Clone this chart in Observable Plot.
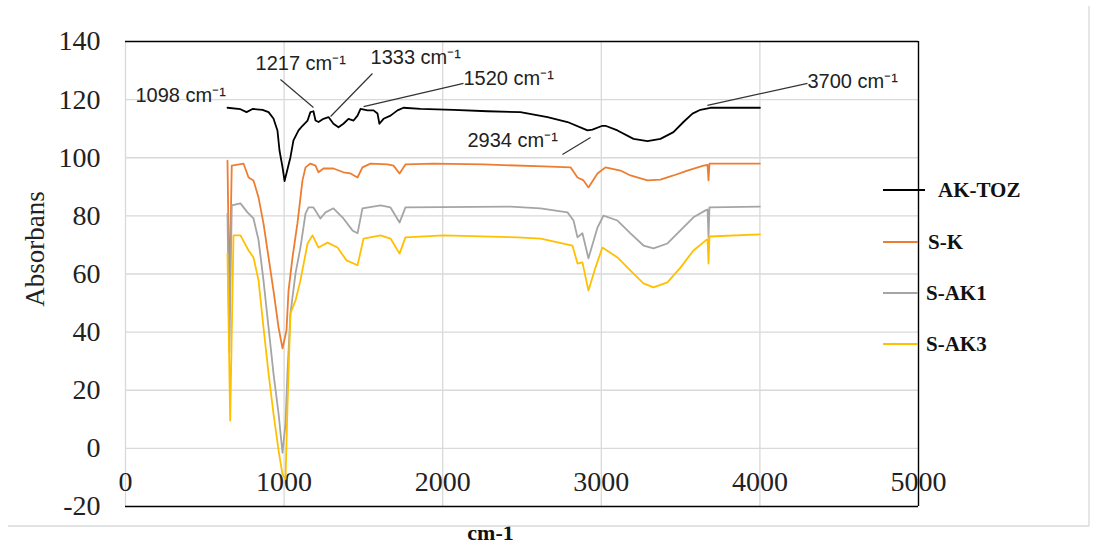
<!DOCTYPE html>
<html><head><meta charset="utf-8">
<script src="https://cdn.jsdelivr.net/npm/d3@7"></script>
<script src="https://cdn.jsdelivr.net/npm/@observablehq/plot@0.6"></script>
<style>body{margin:0;background:#fff} svg{display:block}</style>
</head><body><div id="chart"></div>
<script>
// ---- data ----
const seriesNames = ["AK-TOZ", "S-K", "S-AK1", "S-AK3"];
const seriesColors = ["#000000", "#ED7D31", "#A5A5A5", "#FFC000"];

const akTozWn = [643,725,763,801,864,902,933,958,971,990,1003,1040,1059,1091,1116,1148,1166,1185,1198,1217,1248,1280,1311,1343,1374,1406,1438,1463,1482,1526,1564,1589,1601,1627,1671,1715,1753,1860,2068,2282,2490,2661,2787,2913,2944,3007,3026,3102,3203,3291,3373,3455,3518,3575,3625,3688,4000];
const akTozAbs = [117.2,116.7,115.7,116.8,116.5,115.7,113.5,109.4,102.5,96.8,92.0,100.2,106,109.4,111,112.8,115.7,116,112.8,112.3,113.4,114,111.7,110.5,111.7,113.4,112.8,114.5,116.8,116.3,116.3,115.2,111.7,113.4,114.5,116.3,117.2,116.8,116.5,116,115.7,114,112.3,109.4,109.7,111,111,109.4,106.5,105.7,106.5,108.8,112.3,115.2,116.5,117.2,117.2];

const skWn = [643,655,670,744,776,807,839,870,902,933,965,990,1015,1028,1053,1084,1116,1135,1166,1198,1217,1248,1311,1374,1419,1463,1494,1545,1652,1690,1728,1765,1942,2257,2636,2806,2850,2888,2919,2976,3026,3121,3184,3291,3373,3455,3543,3644,3670,3676,3682,4000];
const skAbs = [99,53,97.3,98,93.2,92.2,86.3,77.4,65.7,54.3,41.6,34.4,40.6,54.3,65.7,77.4,92.2,96.7,98,97.3,95,96.3,96.3,95,94.6,93.2,96.7,98,97.7,97.3,94.6,97.7,98,97.7,97,96.7,93.2,92.2,89.8,94.6,96.7,95.6,93.9,92.2,92.5,93.9,95.6,97.3,97.5,92.2,98,98];

const sAk1Wn = [643,655,670,725,769,807,839,870,902,933,965,990,1009,1021,1040,1072,1103,1135,1154,1185,1229,1261,1311,1374,1431,1463,1494,1608,1671,1728,1765,2427,2617,2787,2825,2850,2881,2919,2976,3014,3102,3184,3266,3329,3417,3499,3581,3657,3670,3676,3682,4000];
const sAk1Abs = [80.8,33,83.6,84.3,81.2,79.1,71.6,57.8,41.6,25.8,12,-1.5,8.6,25.8,46.4,60.2,69.1,80.8,82.9,82.9,79.1,81.2,82.6,79.1,75,74,82.6,83.6,82.9,77.7,82.9,83.2,82.6,81.2,78.4,72.6,74,65.4,76,80.1,78.4,74,69.8,68.8,70.5,75,79.5,81.9,82.2,72.6,82.9,83.2];

const sAk3Wn = [643,660,681,725,776,807,839,870,902,933,965,990,1009,1021,1040,1072,1103,1148,1179,1217,1274,1337,1393,1463,1501,1608,1671,1728,1765,2005,2472,2618,2818,2850,2881,2919,2963,3007,3102,3184,3266,3329,3417,3499,3581,3657,3670,3676,3682,4000];
const sAk3Abs = [67,9.6,73.3,73.3,68.1,65.7,57.8,41.6,25.8,12,-0.7,-9,-10.5,14,46.4,50.9,57.8,70.5,73.3,69.1,70.8,69.1,64.7,63,72.2,73.3,72.2,67,72.6,73.3,72.6,72.2,69.8,63.6,64,54.3,62.2,69.1,65.7,61.2,56.8,55.4,57.1,62.2,68.1,71.5,72,63.6,72.9,73.6];

const xTicks = [0, 1000, 2000, 3000, 4000, 5000];
const yTicks = [-20, 0, 20, 40, 60, 80, 100, 120, 140];
const xDomain = [0, 5000];
const yDomain = [-20, 140];

// peak annotations: label text, label anchor, leader line (start -> end)
const peakText = ["1098 cm⁻¹", "1217 cm⁻¹", "1333 cm⁻¹", "1520 cm⁻¹", "2934 cm⁻¹", "3700 cm⁻¹"];
const peakLabelX = [63, 820, 1545, 2131, 2156, 4300];
const peakLabelY = [121.4, 132.4, 134.5, 127.3, 105.9, 126.2];
const leaderX1 = [null, 977, 1557, 2131, 2932, 4300];
const leaderY1 = [null, 126.9, 129, 125.6, 107, 125.6];
const leaderX2 = [null, 1185, 1293, 1501, 2755, 3669];
const leaderY2 = [null, 117.3, 114.2, 117.6, 101.1, 118];

// ---- build tables ----
const seriesWn = [akTozWn, skWn, sAk1Wn, sAk3Wn];
const seriesAbs = [akTozAbs, skAbs, sAk1Abs, sAk3Abs];
const rows = [];
seriesNames.forEach((name, i) => {
  seriesWn[i].forEach((w, j) => rows.push({series: name, wn: w, abs: seriesAbs[i][j]}));
});
const peaks = peakText.map((t, i) => ({text: t, x: peakLabelX[i], y: peakLabelY[i],
  x1: leaderX1[i], y1: leaderY1[i], x2: leaderX2[i], y2: leaderY2[i]}));
const leaders = peaks.filter(d => d.x1 != null);

const serif = "'Liberation Serif', 'Times New Roman', serif";
const sans = "'Liberation Sans', Arial, sans-serif";

const plot = Plot.plot({
  width: 1097,
  height: 546,
  marginLeft: 125,
  marginRight: 179,
  marginTop: 41,
  marginBottom: 40,
  style: {background: "#fff", overflow: "visible"},
  x: {domain: xDomain, axis: null},
  y: {domain: yDomain, axis: null},
  color: {domain: seriesNames, range: seriesColors},
  marks: [
    Plot.gridX(xTicks.slice(0, -1), {stroke: "#d9d9d9", strokeOpacity: 1, strokeWidth: 1.3}),
    Plot.gridY(yTicks.slice(1, -1), {stroke: "#d9d9d9", strokeOpacity: 1, strokeWidth: 1.3}),
    Plot.ruleY([yDomain[1], yDomain[0]], {stroke: "#000", strokeWidth: 1.4}),
    Plot.ruleX([xDomain[1]], {stroke: "#000", strokeWidth: 1.4}),
    Plot.axisY(yTicks, {tickSize: 0, tickPadding: 25, fontSize: 28, fontFamily: serif, fill: "#222", label: null, tickFormat: d => String(d)}),
    Plot.text(xTicks, {x: d => d, y: () => 0, dy: 34, text: d => String(d), fontSize: 28, fontFamily: serif, fill: "#222"}),
    Plot.line(rows, {x: "wn", y: "abs", z: "series", stroke: "series", strokeWidth: 1.8, curve: "linear"}),
    Plot.link(leaders, {x1: "x1", y1: "y1", x2: "x2", y2: "y2", stroke: "#333", strokeWidth: 1.2}),
    Plot.text(peaks, {x: "x", y: "y", text: "text", textAnchor: "start", fontSize: 20, fontFamily: sans, fill: "#222"}),
    Plot.text(["Absorbans"], {frameAnchor: "left", textAnchor: "middle", dx: -90, dy: -25, rotate: -90, fontSize: 27, fontFamily: serif, fill: "#222"}),
    Plot.text(["cm-1"], {frameAnchor: "bottom-left", textAnchor: "middle", dx: 365, dy: 33, fontSize: 22, fontWeight: "bold", fontFamily: serif, fill: "#111"})
  ]
});
document.getElementById("chart").appendChild(plot);

// legend (Excel-style, to the right of the plot area)
const svg = d3.select(plot);
const legY = [190, 242, 293, 344];
const legTextX = [938, 928, 926, 926];
const lg = svg.append("g").attr("text-anchor", "start");
seriesNames.forEach((name, i) => {
  lg.append("line").attr("x1", 883).attr("x2", i === 0 ? 925 : 918)
    .attr("y1", legY[i]).attr("y2", legY[i]).attr("stroke", seriesColors[i]).attr("stroke-width", 2);
  lg.append("text").attr("x", legTextX[i]).attr("y", legY[i]).attr("dy", "0.35em")
    .attr("text-anchor", "start")
    .attr("font-family", serif).attr("font-weight", "bold").attr("font-size", 21).attr("fill", "#111")
    .text(name);
});
// outer chart border (right and bottom visible)
svg.append("line").attr("x1", 8).attr("x2", 1089).attr("y1", 526).attr("y2", 526).attr("stroke", "#d9d9d9").attr("stroke-width", 1.3);
svg.append("line").attr("x1", 1089).attr("x2", 1089).attr("y1", 6).attr("y2", 526).attr("stroke", "#d9d9d9").attr("stroke-width", 1.3);
</script>
</body></html>
